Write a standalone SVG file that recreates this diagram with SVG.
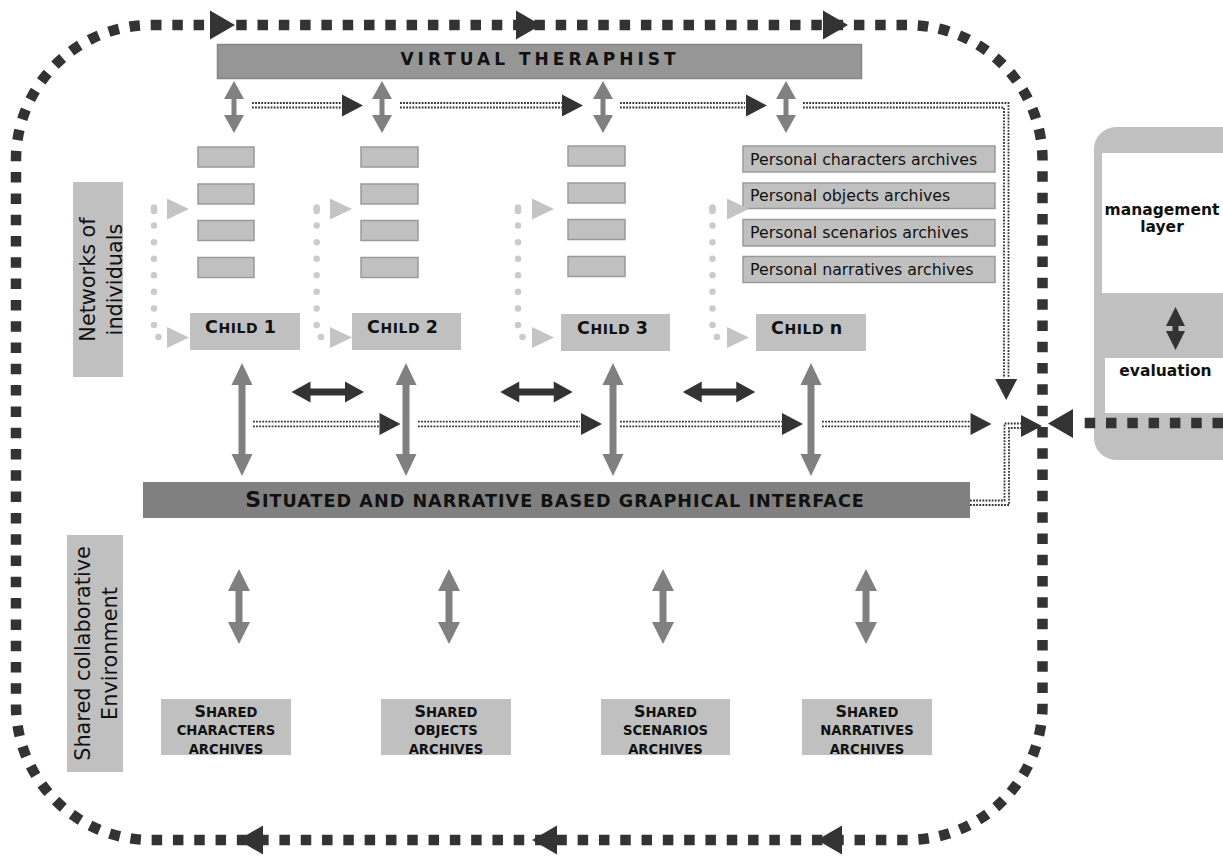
<svg xmlns="http://www.w3.org/2000/svg" width="1223" height="856" viewBox="0 0 1223 856">
<style>
text{font-family:"DejaVu Sans",Verdana,sans-serif;fill:#111}
.b{font-weight:bold}
.lg{fill:#c0c0c0}
.sb{fill:#c0c0c0;stroke:#9a9a9a;stroke-width:1.5}
.loop{fill:none;stroke:#333;stroke-width:10.5;stroke-dasharray:10.5 10.8}
.dd{fill:none;stroke:#333;stroke-width:1.8;stroke-dasharray:1.8 1.3}
.dots{fill:none;stroke:#cbcbcb;stroke-width:6.5;stroke-linecap:round;stroke-dasharray:0 16.57}
.cap{fill:none;stroke:#cbcbcb;stroke-width:6.5;stroke-linecap:round}
.dk{fill:#333}
.gr{fill:#808080}
.lt{fill:#c4c4c4}
.rot{font-size:20.8px}
.per{font-size:15.8px}
.ch{font-weight:bold;letter-spacing:0.6px}
.sh{font-weight:bold;font-size:13.2px}
</style>
<defs>
<path id="vaTop" d="M0,-26 L10,-8 L2.5,-8 L2.5,8 L10,8 L0,26 L-10,8 L-2.5,8 L-2.5,-8 L-10,-8 Z"/>
<path id="vaMid" d="M0,-56.5 L10.5,-34.5 L3.5,-34.5 L3.5,34.5 L10.5,34.5 L0,56.5 L-10.5,34.5 L-3.5,34.5 L-3.5,-34.5 L-10.5,-34.5 Z"/>
<path id="vaBot" d="M0,-37.5 L11,-15.5 L3.5,-15.5 L3.5,15.5 L11,15.5 L0,37.5 L-11,15.5 L-3.5,15.5 L-3.5,-15.5 L-11,-15.5 Z"/>
<path id="haDark" d="M-36.25,0 L-17.25,-10.5 L-17.25,-3.5 L17.25,-3.5 L17.25,-10.5 L36.25,0 L17.25,10.5 L17.25,3.5 L-17.25,3.5 L-17.25,10.5 Z"/>
<path id="triR" d="M-21,-11 L0,0 L-21,11 Z"/>
<path id="triBig" d="M-25,-14.5 L0,0 L-25,14.5 Z"/>
<path id="triLt" d="M-22,-10.5 L0,0 L-22,10.5 Z"/>
</defs>

<!-- management layer (outside loop) -->
<g id="management">
<rect x="1094" y="127" width="170" height="333" rx="22" class="lg"/>
<rect x="1102" y="153" width="140" height="140" fill="#fff"/>
<rect x="1105" y="358" width="140" height="55" fill="#fff"/>
<text x="1162" y="215" text-anchor="middle" class="b" font-size="15.5">management</text>
<text x="1162" y="232" text-anchor="middle" class="b" font-size="15.5">layer</text>
<path class="dk" d="M1175.5,307 L1185,326 L1178.5,326 L1178.5,331 L1185,331 L1175.5,350 L1166,331 L1172.5,331 L1172.5,326 L1166,326 Z"/>
<text x="1165.5" y="376" text-anchor="middle" class="b" font-size="15.5">evaluation</text>
</g>

<!-- labels -->
<g id="label-networks">
<rect x="73" y="182" width="50" height="195" class="lg"/>
<text transform="rotate(-90)" x="-279.5" y="95" text-anchor="middle" class="rot">Networks of</text>
<text transform="rotate(-90)" x="-279.5" y="121.5" text-anchor="middle" class="rot">individuals</text>
</g>
<g id="label-shared">
<rect x="67" y="535" width="56" height="237" class="lg"/>
<text transform="rotate(-90)" x="-653.5" y="90" text-anchor="middle" class="rot">Shared collaborative</text>
<text transform="rotate(-90)" x="-653.5" y="117" text-anchor="middle" class="rot">Environment</text>
</g>

<g id="virtual-therapist">
<rect x="217.5" y="44.5" width="644" height="34" fill="#969696" stroke="#858585" stroke-width="1.5"/>
<text x="540" y="65" text-anchor="middle" class="b" font-size="17" letter-spacing="4">VIRTUAL THERAPHIST</text>
</g>

<g id="interface">
<rect x="143" y="482" width="827" height="36" class="gr"/>
<text x="555" y="507" text-anchor="middle" class="b" letter-spacing="1"><tspan font-size="22">S</tspan><tspan font-size="17.6">ITUATED AND NARRATIVE BASED GRAPHICAL INTERFACE</tspan></text>
</g>

<!-- personal archives -->
<g id="archives-child1">
<rect x="198" y="147" width="56" height="20" class="sb"/>
<rect x="198" y="184" width="56" height="20" class="sb"/>
<rect x="198" y="220.5" width="56" height="20" class="sb"/>
<rect x="198" y="257.5" width="56" height="20" class="sb"/>
</g>
<g id="archives-child2">
<rect x="361" y="147" width="57" height="20" class="sb"/>
<rect x="361" y="184" width="57" height="20" class="sb"/>
<rect x="361" y="220.5" width="57" height="20" class="sb"/>
<rect x="361" y="257.5" width="57" height="20" class="sb"/>
</g>
<g id="archives-child3">
<rect x="568" y="146" width="57" height="20" class="sb"/>
<rect x="568" y="183" width="57" height="20" class="sb"/>
<rect x="568" y="219.5" width="57" height="20" class="sb"/>
<rect x="568" y="256.5" width="57" height="20" class="sb"/>
</g>
<g id="archives-childn">
<rect x="743" y="146" width="252" height="26" class="sb"/>
<rect x="743" y="183" width="252" height="25.5" class="sb"/>
<rect x="743" y="219.5" width="252" height="26.5" class="sb"/>
<rect x="743" y="256.5" width="252" height="26" class="sb"/>
<text x="750" y="164.5" class="per">Personal characters archives</text>
<text x="750" y="201" class="per">Personal objects archives</text>
<text x="750" y="238" class="per">Personal scenarios archives</text>
<text x="750" y="274.5" class="per">Personal narratives archives</text>
</g>

<!-- children -->
<g id="child1">
<rect x="190" y="313" width="110" height="37" class="lg"/>
<text x="205" y="332.5" class="ch"><tspan font-size="17.5">C</tspan><tspan font-size="14">HILD </tspan><tspan font-size="17.5">1</tspan></text>
</g>
<g id="child2">
<rect x="352" y="313" width="109" height="37" class="lg"/>
<text x="367" y="332.5" class="ch"><tspan font-size="17.5">C</tspan><tspan font-size="14">HILD </tspan><tspan font-size="17.5">2</tspan></text>
</g>
<g id="child3">
<rect x="561" y="314" width="109" height="37" class="lg"/>
<text x="577" y="333.5" class="ch"><tspan font-size="17.5">C</tspan><tspan font-size="14">HILD </tspan><tspan font-size="17.5">3</tspan></text>
</g>
<g id="childn">
<rect x="756" y="314" width="110" height="37" class="lg"/>
<text x="771" y="333.5" class="ch"><tspan font-size="17.5">C</tspan><tspan font-size="14">HILD </tspan><tspan font-size="17.5">n</tspan></text>
</g>

<!-- shared archives -->
<g id="shared-characters">
<rect x="161" y="699" width="130" height="56" class="lg"/>
<text x="226" y="717" text-anchor="middle" class="sh"><tspan font-size="16">S</tspan>HARED</text>
<text x="226" y="735" text-anchor="middle" class="sh">CHARACTERS</text>
<text x="226" y="754" text-anchor="middle" class="sh">ARCHIVES</text>
</g>
<g id="shared-objects">
<rect x="381" y="699" width="130" height="56" class="lg"/>
<text x="446" y="717" text-anchor="middle" class="sh"><tspan font-size="16">S</tspan>HARED</text>
<text x="446" y="735" text-anchor="middle" class="sh">OBJECTS</text>
<text x="446" y="754" text-anchor="middle" class="sh">ARCHIVES</text>
</g>
<g id="shared-scenarios">
<rect x="601" y="699" width="129" height="56" class="lg"/>
<text x="665.5" y="717" text-anchor="middle" class="sh"><tspan font-size="16">S</tspan>HARED</text>
<text x="665.5" y="735" text-anchor="middle" class="sh">SCENARIOS</text>
<text x="665.5" y="754" text-anchor="middle" class="sh">ARCHIVES</text>
</g>
<g id="shared-narratives">
<rect x="802" y="699" width="130" height="56" class="lg"/>
<text x="867" y="717" text-anchor="middle" class="sh"><tspan font-size="16">S</tspan>HARED</text>
<text x="867" y="735" text-anchor="middle" class="sh">NARRATIVES</text>
<text x="867" y="754" text-anchor="middle" class="sh">ARCHIVES</text>
</g>

<g id="connectors">
<!-- outer feedback loop -->
<rect x="16" y="25" width="1026.5" height="815" rx="135" class="loop"/>
<use href="#triBig" x="235" y="25" class="dk"/>
<use href="#triBig" x="541" y="25" class="dk"/>
<use href="#triBig" x="848" y="25" class="dk"/>
<use href="#triBig" transform="translate(238,840) rotate(180)" class="dk"/>
<use href="#triBig" transform="translate(532,840) rotate(180)" class="dk"/>
<use href="#triBig" transform="translate(817,840) rotate(180)" class="dk"/>

<!-- from management -->
<path d="M1223,423 H1076" class="loop"/>
<use href="#triBig" transform="translate(1048,423.5) rotate(180)" class="dk"/>

<!-- therapist <-> children archives -->
<use href="#vaTop" x="234" y="107" class="gr"/>
<use href="#vaTop" x="382" y="107" class="gr"/>
<use href="#vaTop" x="603" y="107" class="gr"/>
<use href="#vaTop" x="786" y="107" class="gr"/>

<!-- top dotted sequence -->
<path d="M252,103 H343 M252,107.5 H343" class="dd"/>
<use href="#triR" x="363" y="105.5" class="dk"/>
<path d="M400,103 H562 M400,107.5 H562" class="dd"/>
<use href="#triR" x="583" y="105.5" class="dk"/>
<path d="M620,103 H745 M620,107.5 H745" class="dd"/>
<use href="#triR" x="767" y="105.5" class="dk"/>
<path d="M803,103 H1008.5 V378 M803,107.5 H1004 V378" class="dd"/>
<use href="#triR" transform="translate(1006.2,400) rotate(90)" class="dk"/>

<!-- personal feedback dotted loops -->
<path d="M154,209 V325" class="dots"/><path d="M154,207.5 V211" class="cap"/><circle cx="158.5" cy="337" r="3.3" fill="#cbcbcb"/>
<use href="#triLt" x="189" y="209" class="lt"/><use href="#triLt" x="189" y="337.5" class="lt"/>
<path d="M316.7,209 V325" class="dots"/><path d="M316.7,207.5 V211" class="cap"/><circle cx="321" cy="337" r="3.3" fill="#cbcbcb"/>
<use href="#triLt" x="352" y="209" class="lt"/><use href="#triLt" x="352" y="337.5" class="lt"/>
<path d="M518,209 V325" class="dots"/><path d="M518,207.5 V211" class="cap"/><circle cx="522.5" cy="337" r="3.3" fill="#cbcbcb"/>
<use href="#triLt" x="554" y="209" class="lt"/><use href="#triLt" x="554" y="337.5" class="lt"/>
<path d="M712.5,209 V325" class="dots"/><path d="M712.5,207.5 V211" class="cap"/><circle cx="717" cy="337" r="3.3" fill="#cbcbcb"/>
<use href="#triLt" x="749" y="209" class="lt"/><use href="#triLt" x="749" y="337.5" class="lt"/>

<!-- children <-> interface -->
<use href="#vaMid" x="242" y="419.5" class="gr"/>
<use href="#vaMid" x="406" y="419.5" class="gr"/>
<use href="#vaMid" x="613" y="419.5" class="gr"/>
<use href="#vaMid" x="811" y="419.5" class="gr"/>

<!-- children <-> children -->
<use href="#haDark" x="327.75" y="392" class="dk"/>
<use href="#haDark" x="536.5" y="392" class="dk"/>
<use href="#haDark" x="719" y="392" class="dk"/>

<!-- middle dotted sequence -->
<path d="M253,421.7 H379 M253,426.3 H379" class="dd"/>
<use href="#triR" x="400.5" y="424" class="dk"/>
<path d="M418,421.7 H580 M418,426.3 H580" class="dd"/>
<use href="#triR" x="602" y="424" class="dk"/>
<path d="M620,421.7 H782 M620,426.3 H782" class="dd"/>
<use href="#triR" x="803" y="424" class="dk"/>
<path d="M822,421.7 H970 M822,426.3 H970" class="dd"/>
<use href="#triR" x="991.5" y="424" class="dk"/>

<!-- interface to evaluation -->
<path d="M970,505 H1009 V428 H1021 M970,500.5 H1004.5 V423.5 H1021" class="dd"/>
<use href="#triR" x="1042" y="426" class="dk"/>

<!-- interface <-> shared archives -->
<use href="#vaBot" x="239" y="606.5" class="gr"/>
<use href="#vaBot" x="449" y="606.5" class="gr"/>
<use href="#vaBot" x="663" y="606.5" class="gr"/>
<use href="#vaBot" x="866" y="606.5" class="gr"/>
</g>
</svg>
